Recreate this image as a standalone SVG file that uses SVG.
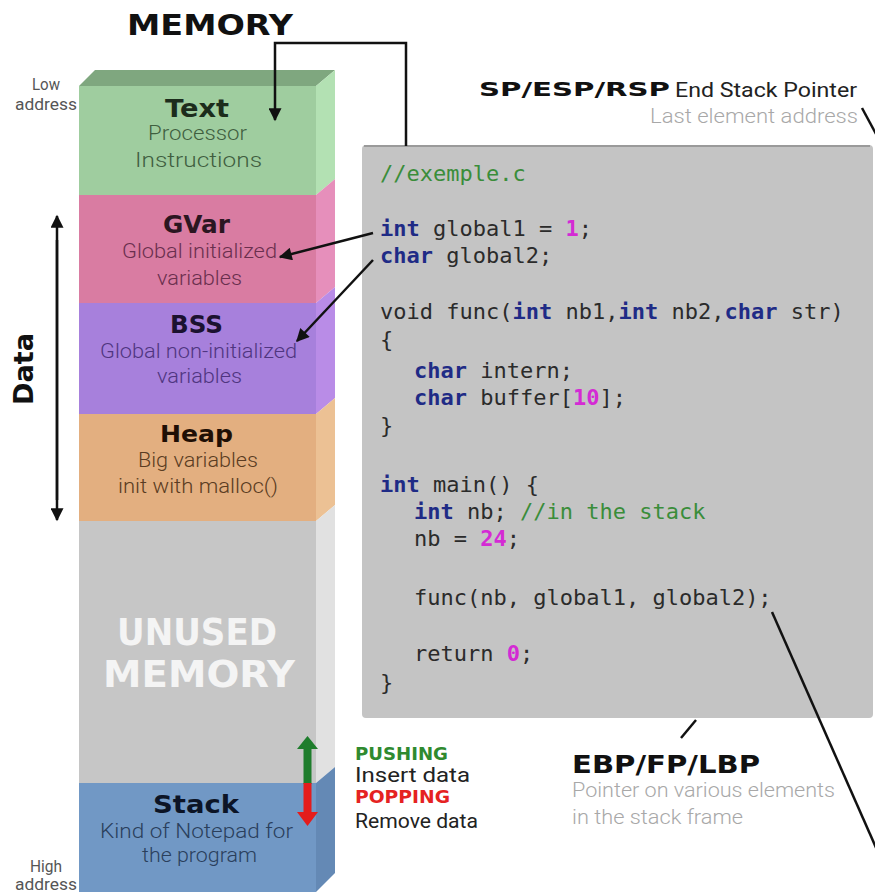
<svg xmlns="http://www.w3.org/2000/svg" width="875" height="896" viewBox="0 0 875 896">
<defs>
<style>
.ttl{font-family:"DejaVu Sans","Liberation Sans",sans-serif;font-weight:bold;font-size:24px}
.sub{font-family:Roboto,"Liberation Sans",sans-serif;font-weight:300;font-size:21px}
.lbl{font-family:Roboto,"Liberation Sans",sans-serif;font-weight:400;font-size:20px}
.code{font-family:"DejaVu Sans Mono","Liberation Mono",monospace;font-size:22px;fill:#2b2b2b}
.kw{fill:#1f2b86;font-weight:bold}
.num{fill:#d42ad4;font-weight:bold}
.cm{fill:#3a8d3a}
.con{stroke:#111;stroke-width:2.5;fill:none}
</style>
<marker id="ah" viewBox="0 0 10 10" refX="9" refY="5" markerUnits="userSpaceOnUse" markerWidth="14" markerHeight="13" orient="auto">
<path d="M0,0 L10,5 L0,10 z" fill="#111"/>
</marker>
</defs>
<rect width="875" height="896" fill="#ffffff"/>

<text class="ttl" x="127" y="35" textLength="166" lengthAdjust="spacingAndGlyphs" style="font-size:28px" fill="#111">MEMORY</text>
<text class="lbl" x="32" y="90" style="font-size:16px" textLength="28" lengthAdjust="spacingAndGlyphs" fill="#555">Low</text>
<text class="lbl" x="15" y="110" style="font-size:16px" textLength="62" lengthAdjust="spacingAndGlyphs" fill="#555">address</text>
<text class="lbl" x="30" y="872" style="font-size:16px" textLength="32" lengthAdjust="spacingAndGlyphs" fill="#555">High</text>
<text class="lbl" x="15" y="890" style="font-size:16px" textLength="62" lengthAdjust="spacingAndGlyphs" fill="#555">address</text>
<text class="ttl" transform="translate(33,369) rotate(-90)" x="-36" y="0" style="font-size:26px" textLength="72" lengthAdjust="spacingAndGlyphs" fill="#111">Data</text>

<polygon points="79,86 95,70 335,70 316,86" fill="#7fa77f"/>

<g id="seg-text">
<rect x="79" y="86" width="237" height="109" fill="#9fcd9f"/>
<polygon points="316,86 335,70 335,179 316,195" fill="#b3e1b3"/>
<text class="ttl" x="165" y="117" textLength="64" lengthAdjust="spacingAndGlyphs" fill="#1c2c1c">Text</text>
<text class="sub" x="148" y="140" textLength="99" lengthAdjust="spacingAndGlyphs" fill="#3f5f3f">Processor</text>
<text class="sub" x="135" y="167" textLength="127" lengthAdjust="spacingAndGlyphs" fill="#3f5f3f">Instructions</text>
</g>
<g id="seg-gvar">
<rect x="79" y="195" width="237" height="108" fill="#d97ca2"/>
<polygon points="316,195 335,179 335,287 316,303" fill="#e68fbb"/>
<text class="ttl" x="163" y="233" textLength="67" lengthAdjust="spacingAndGlyphs" fill="#2b1621">GVar</text>
<text class="sub" x="122" y="258" textLength="155" lengthAdjust="spacingAndGlyphs" fill="#6a2f4e">Global initialized</text>
<text class="sub" x="157" y="285" textLength="85" lengthAdjust="spacingAndGlyphs" fill="#6a2f4e">variables</text>
</g>
<g id="seg-bss">
<rect x="79" y="303" width="237" height="111" fill="#a780dc"/>
<polygon points="316,303 335,287 335,398 316,414" fill="#b98ce7"/>
<text class="ttl" x="170" y="333" textLength="53" lengthAdjust="spacingAndGlyphs" fill="#1c1230">BSS</text>
<text class="sub" x="100" y="358" textLength="197" lengthAdjust="spacingAndGlyphs" fill="#4f3580">Global non-initialized</text>
<text class="sub" x="157" y="383" textLength="85" lengthAdjust="spacingAndGlyphs" fill="#4f3580">variables</text>
</g>
<g id="seg-heap">
<rect x="79" y="414" width="237" height="107" fill="#e3af80"/>
<polygon points="316,414 335,398 335,505 316,521" fill="#ecc194"/>
<text class="ttl" x="160" y="442" textLength="73" lengthAdjust="spacingAndGlyphs" style="font-size:23px" fill="#1f0f05">Heap</text>
<text class="sub" x="138" y="467" textLength="120" lengthAdjust="spacingAndGlyphs" fill="#5a3c22">Big variables</text>
<text class="sub" x="118" y="493" textLength="160" lengthAdjust="spacingAndGlyphs" fill="#5a3c22">init with malloc()</text>
</g>
<g id="seg-unused">
<rect x="79" y="521" width="237" height="262" fill="#c6c6c6"/>
<polygon points="316,521 335,505 335,767 316,783" fill="#e1e1e1"/>
<text class="ttl" x="117" y="645" textLength="160" lengthAdjust="spacingAndGlyphs" style="font-size:38px" fill="#f4f4f4">UNUSED</text>
<text class="ttl" x="103" y="687" textLength="192" lengthAdjust="spacingAndGlyphs" style="font-size:38px" fill="#f4f4f4">MEMORY</text>
</g>
<g id="seg-stack">
<rect x="79" y="783" width="237" height="109" fill="#7198c5"/>
<polygon points="316,783 335,767 335,873 316,892" fill="#6489b5"/>
<text class="ttl" x="153" y="813" textLength="86" lengthAdjust="spacingAndGlyphs" fill="#0c1426">Stack</text>
<text class="sub" x="100" y="838" textLength="193" lengthAdjust="spacingAndGlyphs" fill="#2a3f5c">Kind of Notepad for</text>
<text class="sub" x="142" y="862" textLength="115" lengthAdjust="spacingAndGlyphs" fill="#2a3f5c">the program</text>
</g>

<g id="push-pop">
<rect x="303.5" y="746" width="8" height="38" fill="#1e7d2c"/>
<polygon points="297,749 318,749 307.5,736" fill="#1e7d2c"/>
<rect x="303.5" y="783" width="8" height="32" fill="#e41c1c"/>
<polygon points="297,812 318,812 307.5,826" fill="#e41c1c"/>
<text class="ttl" x="355" y="760" textLength="93" lengthAdjust="spacingAndGlyphs" style="font-size:18px" fill="#2f8a2f">PUSHING</text>
<text class="lbl" x="355" y="782" textLength="115" lengthAdjust="spacingAndGlyphs" style="font-size:20px" fill="#222">Insert data</text>
<text class="ttl" x="355" y="803" textLength="95" lengthAdjust="spacingAndGlyphs" style="font-size:18px" fill="#e52222">POPPING</text>
<text class="lbl" x="355" y="828" textLength="123" lengthAdjust="spacingAndGlyphs" style="font-size:20px" fill="#222">Remove data</text>
</g>

<g id="code">
<rect x="362" y="145" width="511" height="573" rx="4" fill="#c4c4c4"/>
<line x1="364" y1="146" x2="870" y2="146" stroke="#9a9a9a" stroke-width="2"/>
<text class="code" x="380" y="181"><tspan class="cm">//exemple.c</tspan></text>
<text class="code" x="380" y="236"><tspan class="kw">int</tspan> global1 = <tspan class="num">1</tspan>;</text>
<text class="code" x="380" y="263"><tspan class="kw">char</tspan> global2;</text>
<text class="code" x="380" y="319">void func(<tspan class="kw">int</tspan> nb1,<tspan class="kw">int</tspan> nb2,<tspan class="kw">char</tspan> str)</text>
<text class="code" x="380" y="347">{</text>
<text class="code" x="414" y="378"><tspan class="kw">char</tspan> intern;</text>
<text class="code" x="414" y="405"><tspan class="kw">char</tspan> buffer[<tspan class="num">10</tspan>];</text>
<text class="code" x="380" y="433">}</text>
<text class="code" x="380" y="492"><tspan class="kw">int</tspan> main() {</text>
<text class="code" x="414" y="519"><tspan class="kw">int</tspan> nb; <tspan class="cm">//in the stack</tspan></text>
<text class="code" x="414" y="546">nb = <tspan class="num">24</tspan>;</text>
<text class="code" x="414" y="605">func(nb, global1, global2);</text>
<text class="code" x="414" y="661">return <tspan class="num">0</tspan>;</text>
<text class="code" x="380" y="690">}</text>
</g>

<g id="sp-label">
<text class="ttl" x="479" y="96" textLength="191" lengthAdjust="spacingAndGlyphs" style="font-size:20px" fill="#111">SP/ESP/RSP</text>
<text class="lbl" x="675" y="97" textLength="182" lengthAdjust="spacingAndGlyphs" style="font-size:20px" fill="#222">End Stack Pointer</text>
<text class="lbl" x="650" y="123" textLength="208" lengthAdjust="spacingAndGlyphs" style="font-size:20px;font-weight:300" fill="#a8a8a8">Last element address</text>
</g>
<g id="ebp-label">
<text class="ttl" x="572" y="773" textLength="188" lengthAdjust="spacingAndGlyphs" style="font-size:24px" fill="#111">EBP/FP/LBP</text>
<text class="lbl" x="572" y="797" textLength="263" lengthAdjust="spacingAndGlyphs" style="font-size:20px;font-weight:300" fill="#a8a8a8">Pointer on various elements</text>
<text class="lbl" x="572" y="824" textLength="171" lengthAdjust="spacingAndGlyphs" style="font-size:20px;font-weight:300" fill="#a8a8a8">in the stack frame</text>
</g>

<g id="connectors">
<path class="con" d="M406,146 V43 H275 V120" marker-end="url(#ah)"/>
<line class="con" x1="373" y1="233" x2="280" y2="257" marker-end="url(#ah)"/>
<line class="con" x1="373" y1="260" x2="297" y2="341" marker-end="url(#ah)"/>
<line class="con" x1="57" y1="500" x2="57" y2="216" marker-end="url(#ah)"/>
<line class="con" x1="57" y1="240" x2="57" y2="520" marker-end="url(#ah)"/>
<line class="con" x1="862" y1="108" x2="876" y2="134"/>
<line class="con" x1="696" y1="720" x2="681" y2="738"/>
<line class="con" x1="772" y1="612" x2="877" y2="850"/>
</g>
</svg>
